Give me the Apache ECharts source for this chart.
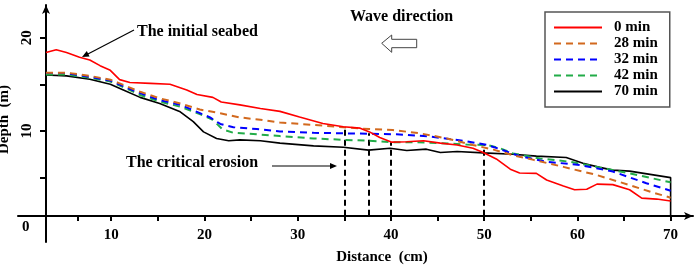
<!DOCTYPE html>
<html>
<head>
<meta charset="utf-8">
<title>Seabed profile</title>
<script src="https://cdn.jsdelivr.net/npm/echarts@6.0.0/dist/echarts.min.js"></script>
<style>
  html, body { margin: 0; padding: 0; background: #fff; }
  #chart { width: 699px; height: 269px; }
</style>
</head>
<body>
<div id="chart"></div>
<script>
// profile data: [distance (cm), depth]
var seriesNames = ['0 min', '28 min', '32 min', '42 min', '70 min'];

var profile0 = [[3,18.4],[4.1,18.7],[5.2,18.4],[6.6,17.9],[7.7,17.6],[8.8,17.0],[9.9,16.5],[10.9,15.5],[12.0,15.2],[14.2,15.1],[16.3,15.0],[18.1,14.4],[19.2,13.9],[20.9,13.6],[21.8,13.1],[23.8,12.8],[26.0,12.4],[28.1,12.1],[30.2,11.5],[32.7,10.8],[34.9,10.45],[36.7,10.3],[37.7,9.9],[38.8,9.3],[40.1,8.8],[41.7,8.85],[43.5,8.95],[45.3,8.7],[47.1,8.5],[48.8,8.15],[49.9,7.7],[51.3,7.0],[52.8,5.9],[53.8,5.5],[55.6,5.45],[56.7,4.75],[58.5,4.1],[59.7,3.7],[61.0,3.75],[62.1,4.3],[63.8,4.25],[65.6,3.7],[66.9,2.8],[68.5,2.7],[70,2.5]];

var profile28 = [[3,16.25],[5.2,16.25],[7.7,15.9],[9.9,15.5],[10.9,15.1],[13.1,14.2],[15.2,13.5],[17.4,12.95],[19.5,12.3],[21.7,11.9],[23.8,11.45],[26.0,11.2],[28.1,10.9],[31.7,10.65],[34.9,10.4],[37.7,10.2],[40.2,10.1],[43.1,9.75],[46.0,9.2],[48.8,8.5],[51.0,8.0],[53.1,7.4],[55.3,6.9],[58.5,6.15],[62.0,5.3],[65.6,4.2],[68.1,3.4],[70,2.85]];

var profile32 = [[3,16.2],[5.2,16.2],[7.7,15.8],[9.9,15.4],[11.3,14.8],[13.1,14.05],[15.2,13.3],[17.4,12.8],[19.2,12.05],[20.6,11.45],[21.7,10.75],[23.1,10.4],[25.6,10.2],[28.1,9.95],[31.7,9.8],[34.9,9.75],[37.7,9.7],[40.6,9.65],[44.2,9.4],[47.8,8.95],[50.3,8.5],[51.7,8.05],[53.8,7.3],[56.7,6.7],[60.3,6.35],[63.8,5.65],[67.4,4.4],[70,3.6]];

var profile42 = [[3,16.05],[5.2,16.05],[7.7,15.7],[9.9,15.3],[11.3,14.7],[13.1,13.85],[15.2,13.15],[17.4,12.6],[19.5,11.8],[20.9,11.2],[21.9,10.2],[23.1,9.8],[25.6,9.65],[28.1,9.45],[31.7,9.2],[34.9,9.05],[37.7,8.95],[39.9,8.8],[42.4,8.8],[45.3,8.7],[48.1,8.55],[50.3,8.5],[51.7,8.15],[53.1,7.6],[56.0,7.05],[59.2,6.7],[62.1,6.15],[65.6,5.45],[70,4.5]];

var profile70 = [[3,16.0],[5.2,15.9],[7.7,15.55],[9.9,15.0],[11.3,14.4],[13.1,13.6],[15.2,12.95],[17.4,12.05],[18.8,11.0],[19.9,9.9],[21.3,9.2],[22.6,8.95],[23.8,9.05],[26.0,8.95],[28.1,8.7],[31.7,8.4],[34.9,8.25],[37.6,7.95],[39.9,8.15],[41.7,7.9],[43.8,8.05],[45.3,7.7],[47.1,7.8],[49.9,7.65],[53.1,7.5],[55.6,7.3],[58.8,7.15],[60.6,6.55],[62.4,6.1],[63.8,5.8],[65.6,5.7],[67.8,5.35],[70,5.0],[70,0.9]];

// critical erosion markers
var criticalX = [35, 37.6, 40, 50];
var criticalTop = [10.35, 9.75, 8.8, 8.5];
var floorDepth = 0.9;

// ticks and labels
var xLabels = [10, 20, 30, 40, 50, 60, 70];
var xTicks = [6.4, 10, 15, 20, 25, 30, 35, 40, 45, 50, 55, 60, 65, 70];
var yLabels = [10, 20];
var yTicks = [5, 10, 15, 20];

var colors = ['#ff0000', '#d2691e', '#0000ff', '#22ac48', '#000000'];
var dashed = [false, true, true, true, false];

var font = "'Liberation Serif', 'Times New Roman', serif";

var chart = echarts.init(document.getElementById('chart'));

var profiles = [profile0, profile28, profile32, profile42, profile70];
var series = [];
for (var i = 0; i < profiles.length; i++) {
    series.push({
        name: seriesNames[i],
        type: 'line',
        data: profiles[i],
        symbol: 'none',
        showSymbol: false,
        silent: true,
        lineStyle: {
            color: colors[i],
            width: dashed[i] ? 2 : 1.6,
            type: dashed[i] ? [7, 5] : 'solid'
        },
        itemStyle: { color: colors[i] },
        z: 10 - i
    });
}

var criticalLines = [];
for (var j = 0; j < criticalX.length; j++) {
    criticalLines.push([
        { coord: [criticalX[j], floorDepth] },
        { coord: [criticalX[j], criticalTop[j]] }
    ]);
}
series[4].markLine = {
    silent: true,
    symbol: 'none',
    label: { show: false },
    lineStyle: { color: '#000', type: [6, 4], width: 2 },
    data: criticalLines
};

function textStyleOf(size) {
    return { font: 'bold ' + (size || 16) + 'px ' + font, fill: '#000' };
}

option = {
    animation: false,
    backgroundColor: '#fff',
    grid: {
        left: 18, right: 6, top: 5, bottom: 27,
        containLabel: false,
        outerBoundsMode: 'none'
    },
    legend: {
        orient: 'vertical',
        left: 545,
        top: 12,
        padding: [8, 12, 8, 8],
        borderColor: '#555',
        borderWidth: 1.5,
        itemWidth: 48,
        itemHeight: 14,
        itemGap: 1,
        data: seriesNames,
        itemStyle: { opacity: 0 },
        textStyle: {
            fontFamily: font, fontWeight: 'bold', fontSize: 15, color: '#000',
            lineHeight: 14,
            padding: [0, 0, 0, 7]
        }
    },
    xAxis: {
        type: 'value',
        min: 0,
        max: 72.4,
        offset: -26,
        name: 'Distance  (cm)',
        nameLocation: 'middle',
        nameGap: 34,
        nameTextStyle: {
            fontFamily: font, fontWeight: 'bold', fontSize: 15, color: '#000',
            padding: [0, 0, 0, 53]
        },
        splitLine: { show: false },
        axisLine: {
            onZero: false,
            lineStyle: { color: '#000', width: 2 },
            symbol: ['none', 'arrow'],
            symbolSize: [6, 9]
        },
        axisTick: {
            show: true, length: 5,
            customValues: xTicks,
            lineStyle: { color: '#000', width: 2 }
        },
        axisLabel: {
            customValues: xLabels,
            margin: 12,
            fontFamily: font, fontWeight: 'bold', fontSize: 15, color: '#000'
        }
    },
    yAxis: {
        type: 'value',
        min: -1.9,
        max: 23.5,
        offset: -28,
        name: 'Depth  (m)',
        nameLocation: 'middle',
        nameGap: 31,
        nameRotate: 90,
        nameTextStyle: {
            fontFamily: font, fontWeight: 'bold', fontSize: 15, color: '#000',
            padding: [0, 0, 0, 8]
        },
        splitLine: { show: false },
        axisLine: {
            onZero: false,
            lineStyle: { color: '#000', width: 2 },
            symbol: ['none', 'arrow'],
            symbolSize: [6, 9]
        },
        axisTick: {
            show: true, length: 6,
            customValues: yTicks,
            lineStyle: { color: '#000', width: 2 }
        },
        axisLabel: {
            customValues: yLabels,
            rotate: 90,
            margin: 11,
            fontFamily: font, fontWeight: 'bold', fontSize: 15, color: '#000'
        }
    },
    graphic: [
        { type: 'text', left: 22, top: 220, style: Object.assign({ text: '0' }, textStyleOf(15)) },
        { type: 'text', left: 137, top: 24, style: Object.assign({ text: 'The initial seabed' }, textStyleOf()) },
        { type: 'line', shape: { x1: 134, y1: 30, x2: 86, y2: 55 }, style: { stroke: '#000', lineWidth: 1.2 } },
        { type: 'polygon', shape: { points: [[82, 57], [89.6, 56.5], [86.8, 51.1]] }, style: { fill: '#000' } },
        { type: 'text', left: 350, top: 9, style: Object.assign({ text: 'Wave direction' }, textStyleOf()) },
        { type: 'polygon', shape: { points: [[381.7, 43.3], [391.7, 35], [391.7, 39.3], [416.7, 39.3], [416.7, 47.7], [391.7, 47.7], [391.7, 52.3]] },
          style: { fill: '#fff', stroke: '#444', lineWidth: 1 } },
        { type: 'text', left: 126, top: 155, style: Object.assign({ text: 'The critical erosion' }, textStyleOf()) },
        { type: 'line', shape: { x1: 272, y1: 166, x2: 332, y2: 166 }, style: { stroke: '#000', lineWidth: 1.2 } },
        { type: 'polygon', shape: { points: [[337, 166], [330, 163], [330, 169]] }, style: { fill: '#000' } }
    ],
    series: series
};

chart.setOption(option);
</script>
</body>
</html>
